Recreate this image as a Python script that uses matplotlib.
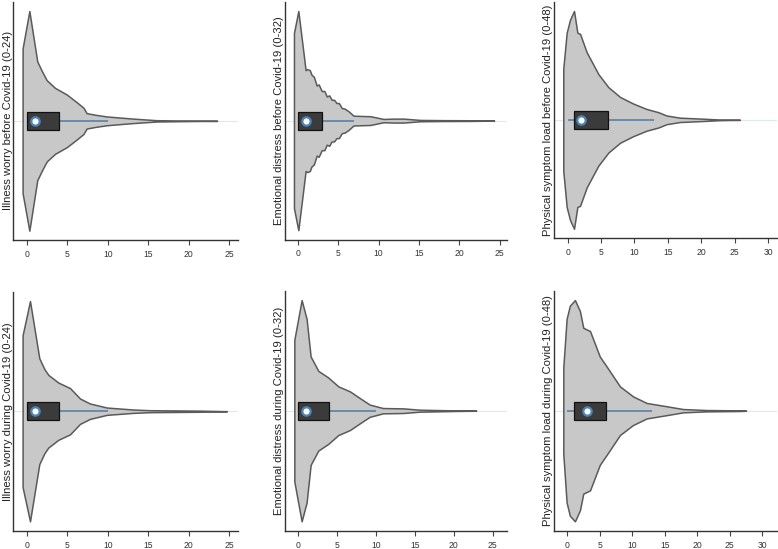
import matplotlib.pyplot as plt

plt.rcParams['font.family'] = ['Liberation Sans', 'DejaVu Sans']

# Panel titles (y labels), top row then bottom row
labels = [
    'Illness worry before Covid-19 (0-24)',
    'Emotional distress before Covid-19 (0-32)',
    'Physical symptom load before Covid-19 (0-48)',
    'Illness worry during Covid-19 (0-24)',
    'Emotional distress during Covid-19 (0-32)',
    'Physical symptom load during Covid-19 (0-48)',
]

# Violin outlines: score and relative half-width
worry_before_x = [-0.5, 0.33, 1.31, 1.9, 2.47, 3.5, 4.94, 6.17, 7.0, 7.4, 8.5, 9.88, 11.5, 13.2, 16, 20, 23.5]
worry_before_w = [0.66, 1.0, 0.54, 0.45, 0.37, 0.30, 0.24, 0.17, 0.12, 0.07, 0.055, 0.04, 0.03, 0.02, 0.006, 0.002, 0.0]

distress_before_x = [-0.46, 0.08, 0.98, 1.2, 1.5, 1.7, 2.0, 2.35, 2.6, 2.97, 3.3, 3.6, 3.9, 4.2, 4.5,
                     4.8, 5.1, 5.45, 5.8, 6.3, 6.9, 8.0, 9.0, 10.6, 11.9, 13.1, 15.2, 18, 21.4, 24.3]
distress_before_w = [0.80, 1.0, 0.46, 0.47, 0.46, 0.42, 0.40, 0.32, 0.33, 0.27, 0.27, 0.22, 0.23, 0.19, 0.19,
                     0.16, 0.16, 0.115, 0.11, 0.085, 0.045, 0.042, 0.04, 0.015, 0.018, 0.018, 0.006, 0.004, 0.003, 0.0]

physical_before_x = [-0.66, -0.15, 0.35, 0.95, 1.45, 1.85, 2.85, 4.6, 6.1, 7.85, 9.8, 11.8, 13.6, 14.8, 16.8, 19.8, 22.8, 25.8]
physical_before_w = [0.47, 0.80, 0.92, 1.0, 0.80, 0.79, 0.62, 0.42, 0.30, 0.21, 0.15, 0.10, 0.07, 0.04, 0.02, 0.012, 0.003, 0.0]

worry_during_x = [-0.5, 0.41, 1.56, 2.2, 2.67, 3.9, 5.35, 6.58, 7.8, 9.9, 13.2, 15.2, 21.4, 24.7]
worry_during_w = [0.69, 1.0, 0.48, 0.38, 0.33, 0.26, 0.21, 0.115, 0.07, 0.033, 0.015, 0.009, 0.005, 0.0]

distress_during_x = [-0.51, 0.43, 1.07, 1.59, 2.58, 3.86, 5.15, 6.64, 7.9, 9.2, 10.9, 13.5, 15.6, 19.9, 22.9]
distress_during_w = [0.64, 1.0, 0.83, 0.49, 0.36, 0.30, 0.22, 0.175, 0.115, 0.055, 0.024, 0.021, 0.009, 0.003, 0.0]

physical_during_x = [-0.61, -0.1, 0.4, 1.18, 1.95, 2.46, 3.5, 5.0, 6.05, 8.1, 10.1, 12.2, 15.3, 17.8, 21.4, 26.5, 27.5]
physical_during_w = [0.39, 0.83, 0.95, 1.0, 0.90, 0.75, 0.72, 0.49, 0.40, 0.22, 0.13, 0.07, 0.04, 0.015, 0.006, 0.003, 0.0]

# Box plot stats: q1, median, q3, whisker low, whisker high
q1 = [0, 0, 1, 0, 0, 1]
median = [1, 1, 2, 1, 1, 3]
q3 = [4, 3, 6, 4, 4, 6]
whisk_lo = [0, 0, 0, 0, 0, 0]
whisk_hi = [10, 7, 13, 10, 10, 13]

xticks = [[0, 5, 10, 15, 20, 25], [0, 5, 10, 15, 20, 25], [0, 5, 10, 15, 20, 25, 30],
          [0, 5, 10, 15, 20, 25], [0, 5, 10, 15, 20, 25], [0, 5, 10, 15, 20, 25, 30]]

profiles = [
    (worry_before_x, worry_before_w),
    (distress_before_x, distress_before_w),
    (physical_before_x, physical_before_w),
    (worry_during_x, worry_during_w),
    (distress_during_x, distress_during_w),
    (physical_during_x, physical_during_w),
]

W, H = 778, 549
# axes boxes in pixels: left, right, top, bottom, and x limits
boxes = [
    (13.3, 238, 1.7, 240, (-1.65, 26.07)),
    (285, 507, 1.7, 239.5, (-1.57, 25.9)),
    (554, 777.3, 1.7, 238, (-2.05, 31.4)),
    (13.3, 238, 291.7, 530.7, (-1.65, 26.07)),
    (285, 507.3, 290.7, 530.7, (-1.71, 26.9)),
    (554, 777.3, 290.7, 530.7, (-2.04, 32.3)),
]

fig = plt.figure(figsize=(W / 100, H / 100), dpi=100)

for i, (l, r, t, b, xl) in enumerate(boxes):
    ax = fig.add_axes([l / W, 1 - b / H, (r - l) / W, (b - t) / H])
    px, pw = profiles[i]
    ax.axhline(0, color='#dfe9ee', lw=0.8, zorder=0.5)
    ax.fill_between(px, [-v for v in pw], pw, facecolor='#c8c8c8',
                    edgecolor='#5a5a5a', linewidth=1.1, zorder=1)
    ax.hlines(0, whisk_lo[i], whisk_hi[i], color='#4d7ca4', lw=1.1, zorder=2)
    ax.barh(0, q3[i] - q1[i], left=q1[i], height=0.164, color='#3b3b3b',
            edgecolor='#111111', linewidth=0.9, zorder=3)
    ax.plot(median[i], 0, 'o', ms=6, mfc='white', mec='#4d85b8', mew=1.6, zorder=4)

    ax.set_xlim(*xl)
    ax.set_ylim(-1.085, 1.085)
    ax.set_xticks(xticks[i])
    ax.set_yticks([])
    ax.tick_params(axis='x', length=3.6, width=0.8, colors='#444444',
                   labelsize=6.2, labelcolor='#333333', pad=3.5)
    for s in ['top', 'right']:
        ax.spines[s].set_visible(False)
    for s in ['left', 'bottom']:
        ax.spines[s].set_color('#333333')
        ax.spines[s].set_linewidth(1.0)
    ax.set_ylabel(labels[i], fontsize=8.1, labelpad=0.5, color='#222222')

fig.savefig('out.png', dpi=100)
